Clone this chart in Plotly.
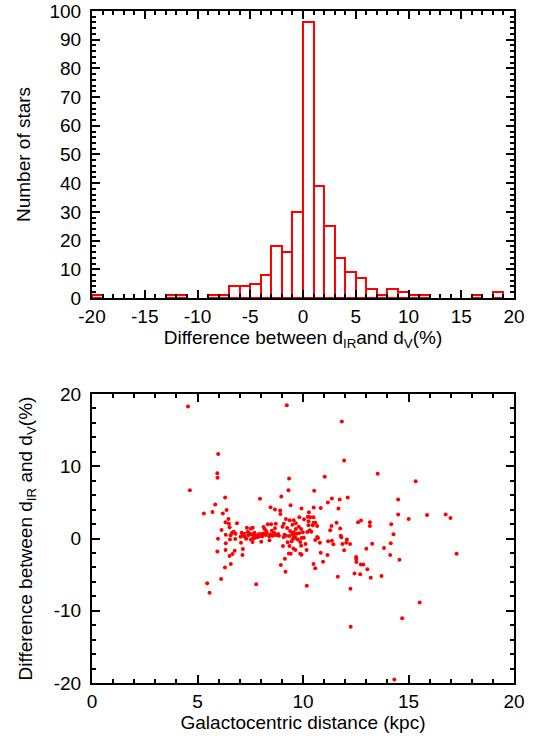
import plotly.graph_objects as go
from plotly.subplots import make_subplots

# Histogram: left edges of 1%-wide bins and star counts
bin_left = [-20, -13, -12, -9, -8, -7, -6, -5, -4, -3, -2, -1, 0, 1, 2, 3, 4, 5, 6, 7, 8, 9, 10, 11, 16, 18]
bin_count = [1, 1, 1, 1, 1, 4, 4, 5, 8, 18, 16, 30, 96, 39, 25, 14, 9, 7, 3, 1, 3, 2, 1, 1, 1, 2]
bin_width = 1.0

# Scatter: galactocentric distance (kpc) vs difference (%)
dist_kpc = [
    4.55, 9.23, 11.84, 5.98, 11.95, 5.94, 5.95, 13.54, 15.34, 9.34, 11.03, 4.64, 9.31, 10.53, 6.31, 7.96,
    8.97, 5.84, 5.30, 5.71, 6.20, 6.38, 8.46, 8.67, 8.92, 8.93, 9.41, 9.93, 10.51, 10.84, 11.18, 11.37,
    11.74, 12.12, 11.68, 10.28, 14.51, 14.51, 15.01, 15.88, 16.76, 16.99, 17.28, 14.18, 14.29, 13.84,
    14.16, 14.13, 14.57, 13.72, 13.21, 13.28, 13.00, 13.05, 13.17, 13.17, 12.75, 12.61, 12.52, 12.52,
    12.53, 12.74, 12.86, 12.71, 12.44, 12.25, 11.65, 11.59, 11.76, 11.35, 11.29, 11.79, 11.82, 12.08,
    12.05, 12.23, 11.87, 11.95, 11.44, 11.37, 11.19, 11.16, 10.95, 10.84, 10.80, 10.67, 10.71, 10.58,
    10.50, 10.58, 10.18, 12.26, 14.70, 15.53, 14.33, 7.78, 5.46, 5.57, 6.12, 6.30, 6.58, 6.52, 6.66,
    6.33, 5.94, 5.97, 6.14, 6.34, 6.34, 6.52, 6.49, 6.47, 6.33, 6.57, 6.54, 6.63, 6.72, 6.79, 6.76,
    6.87, 6.80, 7.06, 7.15, 7.13, 8.02, 8.41, 8.95, 9.17, 9.14, 9.05, 9.33, 9.42, 9.36, 9.27, 9.55,
    9.64, 9.75, 9.87, 9.91, 9.87, 9.93, 10.12, 10.17, 10.04, 9.93, 10.20, 10.32, 10.39, 10.26, 10.46,
    10.59, 10.67, 10.50, 10.34, 10.23, 10.26, 10.05, 9.83, 9.80, 9.91, 9.66, 9.56, 9.49, 9.39, 9.69,
    9.56, 9.37, 9.19, 9.09, 9.03, 9.25, 9.12, 9.20, 9.36, 9.56, 9.64, 9.53, 9.82, 9.99, 9.46, 8.71,
    8.67, 8.49, 8.33, 8.13, 8.18, 8.25, 8.52, 8.62, 8.82, 8.73, 8.57, 8.40, 8.22, 8.07, 7.92, 7.80,
    7.62, 7.53, 7.34, 7.39, 7.23, 7.09, 7.15, 7.04, 7.26, 7.42, 7.53, 7.64, 7.70, 7.70, 7.85, 7.97,
    8.13, 7.53, 7.31, 7.44, 7.61, 7.62, 7.18, 8.07, 8.29, 8.46, 8.65, 8.86, 9.08, 9.50, 9.66, 10.50,
]
diff_pct = [
    18.26, 18.45, 16.20, 11.70, 10.80, 9.04, 8.40, 8.96, 7.94, 8.31, 8.54, 6.69, 6.69, 6.60, 5.67, 5.49,
    5.81, 4.70, 3.45, 3.68, 3.45, 3.96, 4.33, 4.00, 3.87, 3.40, 4.60, 4.14, 4.28, 4.24, 4.98, 5.53,
    5.39, 5.67, 4.14, 3.63, 5.39, 3.31, 2.71, 3.26, 3.31, 2.85, -2.10, 1.97, 0.58, -1.32,
    -0.67, -2.29, -2.94, -5.20, -5.44, -0.72, -1.41, -4.24, 2.24, 1.74, 2.48, 2.24, -2.57, -2.85,
    -3.26, -3.59, -3.59, -4.93, -4.84, -6.97, -5.30, 2.20, 1.37, 1.74, 1.13, 0.39, 0.16, -0.12,
    -0.58, -0.76, -0.76, -1.64, -0.81, -0.30, -0.39, -2.29, -3.22, -1.97, -0.58, 0.21, 0.07, -0.21,
    -3.54, -4.10, -6.55, -12.20, -11.04, -8.87, -19.51, -6.32, -6.18, -7.52, -5.62, -4.00, -3.54, -2.43, -2.15,
    -1.60, -1.78, -0.02, 1.18, 0.53, -0.67, 1.55, 2.06, 2.71, 2.25, 0.44, -0.12, 0.76, 0.95, -0.07, -1.69,
    2.11, 0.67, -0.58, -1.46, -2.29, -0.44, -0.25, -3.68, -4.61, -2.80, -1.04, -2.06, -2.11, -1.04, -0.53, -1.37,
    -1.60, -0.12, -0.49, -1.00, -2.11, -2.25, -0.76, -1.60, 0.12, 0.07, 0.90, 1.13, 0.95, 1.83, 1.83,
    2.20, 1.74, 2.94, 2.94, 3.03, 2.38, 2.66, 2.94, 1.64, 1.32, 1.32, 0.86, 0.67, 1.04, 0.67,
    2.52, 2.52, 2.71, 2.06, 1.64, 1.46, 0.53, 0.39, 0.35, 0.39, 0.12, -0.02, 0.72, 0.86, -0.39, 2.06,
    1.41, 1.97, 1.97, 1.60, 1.32, 1.09, 1.09, 0.81, 0.62, 0.44, 0.39, 0.30, 0.49, 0.67, 0.62, 0.44,
    1.50, 1.37, 1.50, 0.95, 0.67, 0.81, 0.39, 0.25, 0.16, 0.44, 0.62, 0.44, 0.81, 0.07, 0.16, 0.35,
    0.67, -0.12, -0.02, 0.62, -0.49, -0.02, 0.58, 0.30, 0.72, 0.53, 0.67, 0.39, 0.21, 1.92, 2.11, 2.20,
]

hist_xticks = [-20, -15, -10, -5, 0, 5, 10, 15, 20]
hist_yticks = [0, 10, 20, 30, 40, 50, 60, 70, 80, 90, 100]
sc_xticks = [0, 5, 10, 15, 20]
sc_yticks = [-20, -10, 0, 10, 20]

FONT = "Liberation Sans, Arial, sans-serif"
FS = 19

fig = make_subplots(rows=2, cols=1, vertical_spacing=0.14)

bin_center = [b + bin_width / 2 for b in bin_left]
fig.add_trace(go.Bar(
    x=bin_center, y=bin_count, width=bin_width,
    marker=dict(color="rgba(0,0,0,0)", line=dict(color="#ff0000", width=2)),
    showlegend=False,
), row=1, col=1)

fig.add_trace(go.Scatter(
    x=dist_kpc, y=diff_pct, mode="markers",
    marker=dict(color="#ff0000", size=4, line=dict(width=0)),
    showlegend=False,
), row=2, col=1)

axis_common = dict(
    showline=True, linecolor="black", linewidth=2, mirror="allticks",
    ticks="inside", ticklen=8, tickwidth=2, tickcolor="black",
    showgrid=False, zeroline=False, automargin=False,
    ticklabeloverflow="allow",
    tickfont=dict(family=FONT, size=FS, color="black"),
)
minor_x = dict(dtick=1, ticklen=4, tickcolor="black", tickwidth=2, ticks="inside")
minor_y = dict(dtick=2, ticklen=4, tickcolor="black", tickwidth=2, ticks="inside")
title_font = dict(family=FONT, size=FS, color="black")


def labels(vals):
    return [str(v) for v in vals]


fig.update_xaxes(**axis_common, range=[-20, 20], tickvals=hist_xticks, ticktext=labels(hist_xticks),
                 minor=minor_x, ticklabelstandoff=0,
                 title=dict(text="Difference between d<sub>IR</sub>and d<sub>V</sub>(%)",
                            font=title_font, standoff=4),
                 domain=[0, 1], row=1, col=1)
fig.update_yaxes(**axis_common, range=[0, 100], tickvals=hist_yticks, ticktext=labels(hist_yticks),
                 minor=minor_y, ticklabelstandoff=5,
                 title=dict(text="Number of stars", font=title_font, standoff=14),
                 domain=[0.573, 1.0], row=1, col=1)
fig.update_xaxes(**axis_common, range=[0, 20], tickvals=sc_xticks, ticktext=labels(sc_xticks),
                 minor=minor_x, ticklabelstandoff=0,
                 title=dict(text="Galactocentric distance (kpc)", font=title_font, standoff=4),
                 domain=[0, 1], row=2, col=1)
fig.update_yaxes(**axis_common, range=[-20, 20], tickvals=sc_yticks, ticktext=labels(sc_yticks),
                 minor=minor_y, ticklabelstandoff=5,
                 title=dict(text="Difference between d<sub>IR</sub> and d<sub>V</sub>(%)",
                            font=title_font, standoff=16),
                 domain=[0, 0.430], row=2, col=1)

fig.update_layout(
    width=540, height=743,
    margin=dict(l=92, r=26, t=11, b=60),
    paper_bgcolor="white", plot_bgcolor="white",
    font=dict(family=FONT, size=FS, color="black"),
    bargap=0,
)

fig.write_html("out.html", config={"displayModeBar": False},
               post_script="document.body.style.margin='0';document.body.style.overflow='hidden';")
